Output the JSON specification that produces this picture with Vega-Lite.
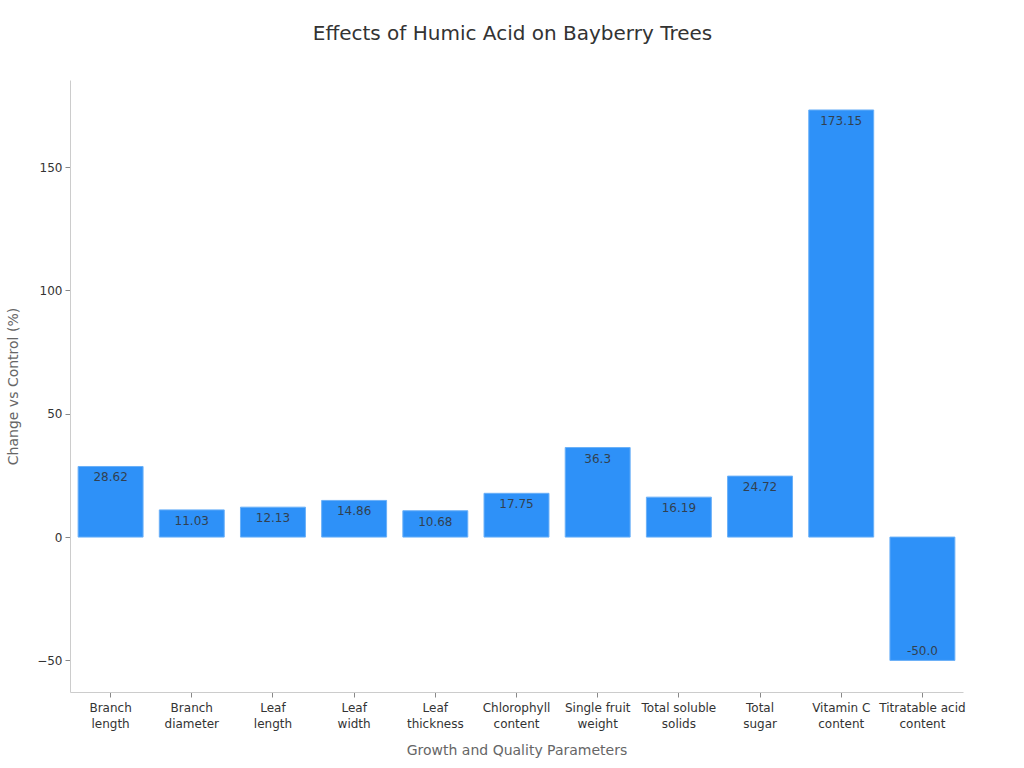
{
  "$schema": "https://vega.github.io/schema/vega-lite/v6.json",
  "width": 893,
  "height": 612,
  "autosize": {"type": "none"},
  "padding": {"left": 70, "top": 80, "right": 61, "bottom": 76},
  "background": "white",
  "title": {
    "text": "Effects of Humic Acid on Bayberry Trees",
    "anchor": "middle",
    "frame": "group",
    "dx": -4,
    "offset": 36,
    "font": "DejaVu Sans",
    "fontSize": 20,
    "fontWeight": "normal",
    "color": "#333333"
  },
  "config": {
    "view": {"stroke": null},
    "font": "DejaVu Sans"
  },
  "data": {
    "values": [
      {"parameter": "Branch length", "change": 28.62, "label": "28.62"},
      {"parameter": "Branch diameter", "change": 11.03, "label": "11.03"},
      {"parameter": "Leaf length", "change": 12.13, "label": "12.13"},
      {"parameter": "Leaf width", "change": 14.86, "label": "14.86"},
      {"parameter": "Leaf thickness", "change": 10.68, "label": "10.68"},
      {"parameter": "Chlorophyll content", "change": 17.75, "label": "17.75"},
      {"parameter": "Single fruit weight", "change": 36.3, "label": "36.3"},
      {"parameter": "Total soluble solids", "change": 16.19, "label": "16.19"},
      {"parameter": "Total sugar", "change": 24.72, "label": "24.72"},
      {"parameter": "Vitamin C content", "change": 173.15, "label": "173.15"},
      {"parameter": "Titratable acid content", "change": -50.0, "label": "-50.0"}
    ]
  },
  "encoding": {
    "x": {
      "field": "parameter",
      "type": "nominal",
      "sort": null,
      "scale": {"paddingInner": 0.2, "paddingOuter": 0.1},
      "axis": {
        "title": "Growth and Quality Parameters",
        "labelAngle": 0,
        "labelExpr": "[slice(datum.label, 0, lastindexof(datum.label, ' ')), slice(datum.label, lastindexof(datum.label, ' ') + 1)]",
        "labelFontSize": 12,
        "labelColor": "#333333",
        "labelLineHeight": 16,
        "labelPadding": 5,
        "tickSize": 5,
        "tickColor": "#888888",
        "domainColor": "#cccccc",
        "titleFontSize": 14,
        "titleFontWeight": "normal",
        "titleColor": "#666666",
        "titlePadding": 14
      }
    },
    "y": {
      "field": "change",
      "type": "quantitative",
      "scale": {"domain": [-62.8, 185.3], "nice": false, "zero": false},
      "axis": {
        "title": "Change vs Control (%)",
        "values": [-50, 0, 50, 100, 150],
        "grid": false,
        "labelFontSize": 12,
        "labelColor": "#333333",
        "labelPadding": 3,
        "tickSize": 5,
        "tickColor": "#888888",
        "domainColor": "#cccccc",
        "titleFontSize": 14,
        "titleFontWeight": "normal",
        "titleColor": "#666666",
        "titlePadding": 16
      }
    }
  },
  "layer": [
    {
      "mark": {"type": "bar", "color": "#2E91F8", "stroke": "#6AB0F8", "strokeWidth": 1}
    },
    {
      "transform": [{"filter": "datum.change >= 0"}],
      "mark": {"type": "text", "dy": 11, "baseline": "middle", "fontSize": 12, "color": "#333333", "opacity": 0.85},
      "encoding": {"text": {"field": "label"}}
    },
    {
      "transform": [{"filter": "datum.change < 0"}],
      "mark": {"type": "text", "dy": -9, "baseline": "middle", "fontSize": 12, "color": "#333333", "opacity": 0.85},
      "encoding": {"text": {"field": "label"}}
    }
  ]
}
